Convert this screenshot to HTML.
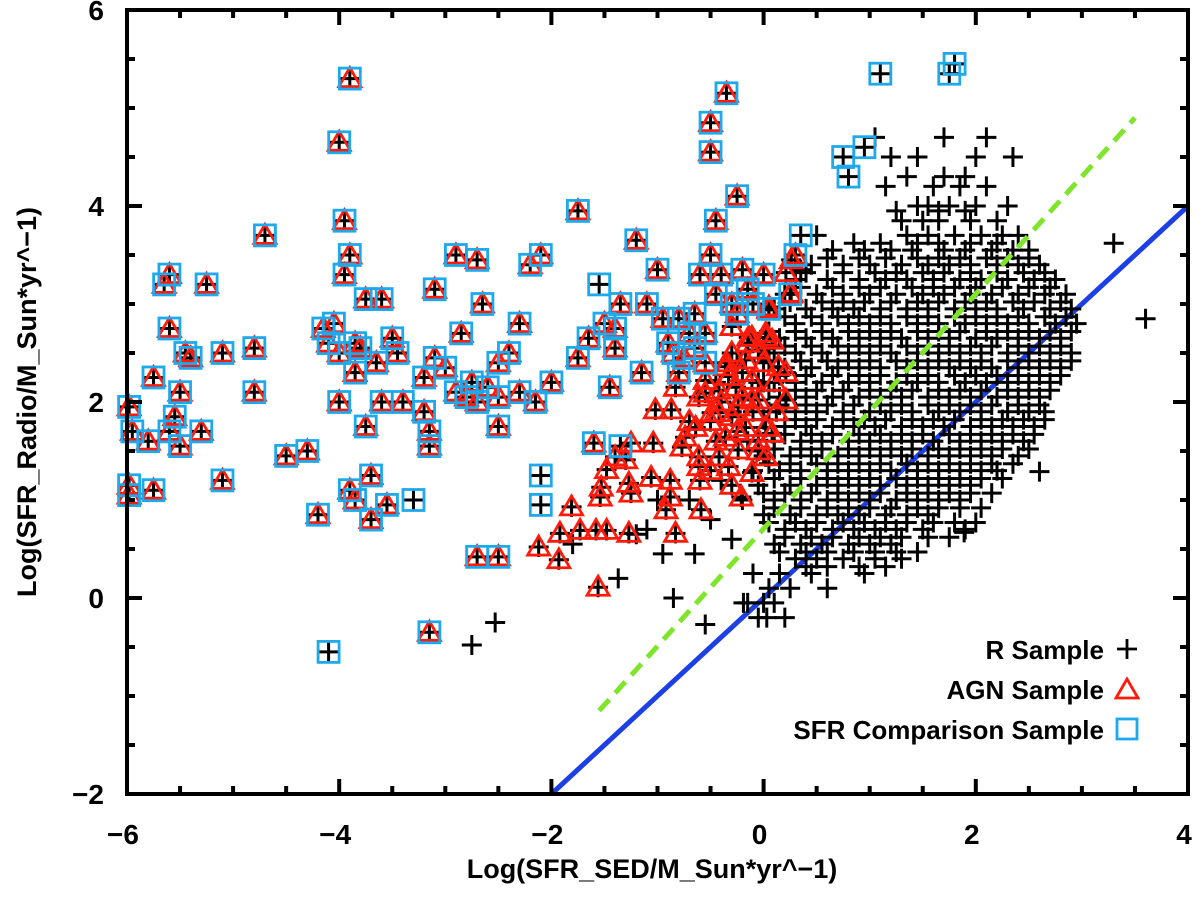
<!DOCTYPE html>
<html><head><meta charset="utf-8"><style>
html,body{margin:0;padding:0;background:#fff;}
svg{display:block;font-family:"Liberation Sans",sans-serif;}
</style></head><body>
<svg id="chart" width="1200" height="898" viewBox="0 0 1200 898">
<g id="marks"></g>
<g id="axes"></g>
</svg>
<script>
// R sample (black crosses only)
const rowsY=[4.7,4.5,4.3,4.2,4.0,3.85,3.7,3.55,3.4,3.25,3.1,2.95,2.8,2.65,2.5,2.35,2.2,2.05,1.9,1.75,1.6,1.45,1.3,1.15,1.0,0.85,0.7,0.55,0.4,0.25,0.1,-0.05,-0.2];
const rowsX=[
[1.05,1.7,2.1],[1.2,1.45,2.0,2.35],[1.35,1.7,1.9],[1.15,1.6,1.85,2.1],[1.45,1.55,1.75,2.0,2.3],
[1.3,1.5,1.65,1.95,2.2],[0.5,1.35,1.55,1.8,2.05,2.25,2.4],[0.65,0.95,1.2,1.4,1.7,1.9,2.15,2.35,2.5],
[0.45,0.75,1.0,1.3,1.55,1.75,1.95,2.2,2.4,2.6],[0.3,0.6,0.9,1.15,1.35,1.6,1.85,2.05,2.3,2.55,2.75],
[0.2,0.5,0.75,1.0,1.25,1.5,1.7,1.95,2.15,2.4,2.65,2.85],[0.1,0.4,0.65,0.85,1.1,1.35,1.55,1.8,2.0,2.2,2.45,2.7,2.9],
[0.3,0.55,0.8,1.0,1.2,1.45,1.65,1.9,2.1,2.3,2.5,2.75,2.95],[0.15,0.4,0.65,0.9,1.1,1.3,1.55,1.75,2.0,2.2,2.4,2.6,2.8],
[0.1,0.3,0.55,0.8,1.0,1.2,1.45,1.65,1.85,2.05,2.3,2.5,2.7,2.9],[0.2,0.45,0.7,0.9,1.1,1.35,1.55,1.75,1.95,2.15,2.4,2.6,2.8],
[0.0,0.3,0.55,0.8,1.0,1.25,1.45,1.65,1.9,2.1,2.3,2.5,2.7],[0.15,0.4,0.65,0.9,1.1,1.3,1.55,1.75,1.95,2.2,2.4,2.6],
[0.05,0.3,0.5,0.75,1.0,1.2,1.4,1.65,1.85,2.05,2.3,2.5,2.65],[0.2,0.4,0.65,0.85,1.05,1.3,1.5,1.7,1.95,2.15,2.35,2.55],
[0.1,0.35,0.55,0.8,1.0,1.2,1.4,1.6,1.85,2.05,2.25,2.45],[0.0,0.25,0.45,0.7,0.9,1.1,1.3,1.55,1.75,1.95,2.15,2.4],
[0.15,0.35,0.6,0.8,1.0,1.2,1.45,1.65,1.85,2.05,2.2],[-0.05,0.25,0.5,0.7,0.9,1.1,1.35,1.55,1.75,1.95],
[0.1,0.35,0.6,0.8,1.0,1.25,1.45,1.65,1.85],[0.0,0.25,0.5,0.7,0.9,1.15,1.35,1.55],
[0.2,0.4,0.65,0.85,1.05,1.25,1.5,1.9],[0.1,0.35,0.55,0.8,1.0,1.2],[0.3,0.5,0.75,1.05,1.3],
[-0.1,0.15,0.45,0.95],[0.05,0.25,0.6],[-0.15,0.0,0.1],[-0.05,0.2]];
// denser in-between rows of the core cloud
const rows2Y=[3.95,3.62,3.47,3.32,3.17,3.02,2.87,2.72,2.57,2.42,2.27,2.12,1.97,1.82,1.67,1.52,1.37,1.22,1.07,0.92,0.77,0.62,0.47,0.32];
const rows2X=[
[1.25,1.65,1.9],[0.85,1.1,1.45,1.65,1.95,2.2],[0.6,0.9,1.15,1.45,1.65,1.85,2.1,2.3,2.5],
[0.4,0.75,1.05,1.25,1.5,1.7,1.95,2.2,2.45,2.65],[0.35,0.65,0.9,1.1,1.4,1.6,1.8,2.0,2.25,2.5,2.7],
[0.25,0.55,0.75,0.95,1.2,1.45,1.65,1.9,2.1,2.35,2.55,2.8],[0.2,0.45,0.7,0.9,1.1,1.35,1.55,1.8,2.0,2.2,2.4,2.65,2.85],
[0.05,0.3,0.55,0.8,1.0,1.2,1.45,1.65,1.85,2.1,2.3,2.5,2.7,2.9],[0.2,0.45,0.7,0.9,1.1,1.35,1.55,1.75,1.95,2.15,2.4,2.6,2.8],
[0.05,0.35,0.6,0.8,1.0,1.25,1.45,1.65,1.85,2.05,2.3,2.5,2.7,2.9],[0.15,0.4,0.65,0.9,1.1,1.35,1.55,1.8,2.0,2.2,2.4,2.6,2.8],
[0.05,0.3,0.5,0.75,1.0,1.2,1.4,1.65,1.85,2.05,2.3,2.5,2.7],[0.15,0.4,0.6,0.85,1.1,1.3,1.55,1.75,1.95,2.15,2.4,2.6],
[0.0,0.3,0.5,0.75,0.95,1.15,1.4,1.6,1.8,2.05,2.25,2.45,2.65],[0.2,0.45,0.65,0.9,1.1,1.3,1.5,1.75,1.95,2.15,2.35,2.55],
[0.1,0.35,0.55,0.8,1.0,1.2,1.4,1.65,1.85,2.05,2.25,2.5],[0.05,0.25,0.5,0.7,0.9,1.1,1.35,1.55,1.75,1.95,2.15,2.35],
[0.1,0.35,0.6,0.8,1.0,1.25,1.45,1.65,1.85,2.05,2.25],[0.0,0.2,0.45,0.7,0.9,1.1,1.35,1.55,1.75,1.95,2.15],
[0.1,0.35,0.6,0.8,1.0,1.2,1.45,1.65,1.85,2.05],[0.05,0.3,0.5,0.75,0.95,1.15,1.35,1.6,1.8,2.0],
[0.2,0.45,0.65,0.9,1.1,1.3,1.55,1.75],[0.15,0.4,0.6,0.85,1.05,1.25,1.45],[0.4,0.6,0.9,1.15]];
const extraX=[3.3,3.6,2.6,1.89,-1.37,-2.75,-2.53,-0.85,-0.55,-0.19,0.03,-1.1,-0.65,-0.5,-0.3,-0.2,-0.4,-0.7,-1.0,-0.95,-1.2,-1.8,-0.1,0.35,-0.15,-0.3,-0.05,-0.25,0.05,-0.45,-0.1];
const extraY=[3.62,2.85,1.29,0.67,0.2,-0.48,-0.25,0.0,-0.27,-0.05,-0.2,0.7,0.45,0.8,0.6,1.0,1.2,1.0,1.0,0.45,0.65,0.55,2.6,3.35,1.6,1.9,2.2,2.4,2.5,2.2,1.3];
// SFR comparison sample (blue squares; all also R sample)
const sqX=[-5.98,-5.95,-5.98,-5.98,-5.8,-5.75,-5.75,-5.65,-5.6,-5.6,-5.55,-5.6,-5.5,-5.5,-5.45,-5.4,-5.3,-5.25,-5.1,-5.1,-4.8,-4.8,-4.7,-4.5,-4.3,-4.2,-4.15,-4.1,-4.05,-4.0,-4.0,-4.0,-3.95,-3.9,-3.95,-3.9,-3.85,-3.85,-3.9,-3.85,-3.8,-3.75,-3.75,-3.7,-3.7,-3.65,-3.6,-3.6,-3.55,-3.5,-3.45,-3.4,-3.2,-3.2,-3.15,-3.15,-3.15,-3.1,-3.1,-3.0,-2.9,-2.9,-2.85,-2.8,-2.75,-2.7,-2.7,-2.7,-2.65,-2.6,-2.5,-2.5,-2.5,-2.5,-2.4,-2.3,-2.3,-2.2,-2.1,-2.15,-2.0,-1.75,-1.75,-1.65,-1.6,-1.5,-1.45,-1.4,-1.4,-1.35,-1.2,-1.15,-1.1,-1.0,-0.95,-0.9,-0.85,-0.8,-0.75,-0.7,-0.65,-0.6,-0.55,-0.5,-0.5,-0.5,-0.45,-0.45,-0.4,-0.35,-0.3,-0.25,-0.25,-0.2,-0.15,-0.1,0.0,0.05,0.3,0.25,-0.55,-0.65,-0.8,
-3.3,-4.1,-2.1,-2.1,-1.55,-1.35,0.35,0.75,0.8,0.95,1.1,1.75,1.8];
const sqY=[1.95,1.7,1.15,1.05,1.6,1.1,2.25,3.2,3.3,2.75,1.85,1.7,1.55,2.1,2.5,2.45,1.7,3.2,2.5,1.2,2.55,2.1,3.7,1.45,1.5,0.85,2.75,2.6,2.8,4.65,2.5,2.0,3.85,5.3,3.3,3.5,2.6,2.3,1.1,1.0,2.55,3.05,1.75,1.25,0.8,2.4,3.05,2.0,0.95,2.65,2.5,2.0,2.25,1.9,1.7,1.55,-0.35,3.15,2.45,2.35,2.1,3.5,2.7,2.05,2.2,3.45,2.0,0.42,3.0,2.15,0.42,2.4,2.05,1.75,2.5,2.1,2.8,3.4,3.5,2.0,2.2,3.95,2.45,2.65,1.58,2.8,2.15,2.55,2.75,3.0,3.65,2.3,3.0,3.35,2.85,2.6,2.5,2.3,2.45,2.7,2.55,3.3,2.7,4.85,4.55,3.5,3.85,3.1,3.3,5.15,3.0,4.1,2.9,3.35,3.15,3.0,3.3,2.95,3.5,3.1,2.4,2.9,2.85,
1.0,-0.55,1.25,0.95,3.2,1.55,3.7,4.5,4.3,4.6,5.35,5.35,5.45];
const sqNoAgn=13; // last entries have no AGN triangle
// AGN-only sample (red triangles)
const agnX=[-2.12,-1.93,-1.92,-1.81,-1.73,-1.58,-1.48,-1.54,-1.53,-1.48,-1.4,-1.3,-1.27,-1.25,-1.27,-1.25,-1.06,-1.04,-1.02,-0.87,-0.83,-0.88,-0.88,-0.92,-0.83,-0.77,-0.74,-0.64,-0.61,-0.61,-0.59,-0.42,-0.33,-0.24,-0.21,-0.11,0.02,-0.61,-0.55,-0.42,-0.33,-0.42,-0.3,-0.24,-0.11,0.02,0.08,0.21,0.14,-0.05,-0.14,-0.3,0.02,0.08,-0.17,-0.36,-0.55,-0.05,-0.17,-0.05,-0.36,-0.49,-0.26,-0.11,0.05,0.21,-1.56,0.26,0.21,0.26,0.05,-0.11,0.02,
-0.5,-0.4,-0.2,-0.1,0.1,-0.3,-0.15,0.0,-0.45,-0.25,-0.05,0.12,-0.35,-0.2,-0.6,-0.7,-0.5,-0.3];
const agnY=[0.52,0.39,0.66,0.93,0.69,0.69,0.69,1.03,1.13,1.31,1.44,1.41,1.17,1.07,0.66,1.58,1.23,1.58,1.92,1.92,2.15,1.2,1.03,0.9,0.66,1.54,1.64,1.74,1.44,1.34,0.9,1.44,1.34,1.51,1.03,1.28,1.44,2.05,2.22,2.12,2.26,1.89,1.85,1.95,2.02,1.74,1.68,2.02,2.36,2.53,2.66,2.77,2.7,2.63,2.43,2.36,2.09,2.02,1.74,1.61,1.64,1.89,2.15,2.22,2.94,2.3,0.11,3.45,3.32,3.11,2.97,2.66,2.66,
1.8,2.0,2.3,1.9,2.2,2.5,2.6,2.4,1.6,1.7,1.5,1.9,2.4,2.05,1.2,1.8,1.3,1.15];
// reference lines
const oneToOneX=[-2,4], oneToOneY=[-2,4];
const fitX=[-1.55,3.5], fitY=[-1.15,4.9];
const xTicks=[-6,-4,-2,0,2,4], yTicks=[-2,0,2,4,6];

const X0=127,X1=1188,Y0=794,Y1=10;
const sx=v=>X0+(v+6)/10*(X1-X0);
const sy=v=>Y0-(v+2)/8*(Y0-Y1);
const NS="http://www.w3.org/2000/svg";
const marks=document.getElementById('marks'), axes=document.getElementById('axes');
function mk(tag,attrs,parent){const e=document.createElementNS(NS,tag);for(const k in attrs)e.setAttribute(k,attrs[k]);parent.appendChild(e);return e;}

let l=mk('line',{x1:sx(oneToOneX[0]),y1:sy(oneToOneY[0]),x2:sx(oneToOneX[1]),y2:sy(oneToOneY[1]),stroke:'#1c3fe6','stroke-width':5},marks);


const gC=mk('g',{stroke:'#000','stroke-width':3,fill:'none'},marks);


function cross(x,y){const px=sx(x),py=sy(y);const p=mk('path',{d:`M${px-10},${py}h20M${px},${py-10}v20`},gC);

}
rowsY.forEach((y,i)=>rowsX[i].forEach(x=>cross(x,y)));
rows2Y.forEach((y,i)=>rows2X[i].forEach(x=>cross(x,y)));
extraX.forEach((x,i)=>cross(x,extraY[i]));
sqX.forEach((x,i)=>cross(x,sqY[i]));
agnX.forEach((x,i)=>cross(x,agnY[i]));
const gT=mk('g',{stroke:'#ff1a0a','stroke-width':2.8,fill:'none','stroke-linejoin':'miter'},marks);


function tri(x,y){const px=sx(x),py=sy(y);const p=mk('path',{d:`M${px-11},${py+8}L${px},${py-11}L${px+11},${py+8}Z`},gT);

}
agnX.forEach((x,i)=>tri(x,agnY[i]));
sqX.forEach((x,i)=>{if(i<sqX.length-sqNoAgn)tri(x,sqY[i]);});
const gS=mk('g',{stroke:'#1ea9ec','stroke-width':2.8,fill:'none'},marks);


sqX.forEach((x,i)=>{const p=mk('rect',{x:sx(x)-10.5,y:sy(sqY[i])-10.5,width:21,height:21},gS);

});
l=mk('line',{x1:sx(fitX[0]),y1:sy(fitY[0]),x2:sx(fitX[1]),y2:sy(fitY[1]),stroke:'#7fe52a','stroke-width':5,'stroke-dasharray':'15 9'},marks);



const fr=mk('rect',{x:X0,y:Y1,width:X1-X0,height:Y0-Y1,fill:'none',stroke:'#000','stroke-width':4},axes);


let d='';
for(let v=-6;v<=4.001;v+=0.5){const px=sx(v);const L=Math.abs(v-Math.round(v/2)*2)<1e-6?15:8;d+=`M${px},${Y0}v${-L}M${px},${Y1}v${L}`;}
for(let v=-2;v<=6.001;v+=0.5){const py=sy(v);const L=Math.abs(v-Math.round(v/2)*2)<1e-6?15:8;d+=`M${X0},${py}h${L}M${X1},${py}h${-L}`;}
const tk=mk('path',{d:d,stroke:'#000','stroke-width':4,fill:'none'},axes);


xTicks.forEach(v=>{const t=mk('text',{x:sx(v)-4,y:844,'text-anchor':'middle','font-size':28,'font-weight':'bold'},axes);t.textContent=v<0?'\u2212'+(-v):String(v);

});
yTicks.forEach(v=>{const t=mk('text',{x:104,y:sy(v)+10,'text-anchor':'end','font-size':28,'font-weight':'bold'},axes);t.textContent=v<0?'\u2212'+(-v):String(v);

});
let t=mk('text',{x:652,y:878,'text-anchor':'middle','font-size':27,'font-weight':'bold'},axes);
t.textContent='Log(SFR_SED/M_Sun*yr^\u22121)';


t=mk('text',{x:0,y:0,'text-anchor':'middle','font-size':27,'font-weight':'bold',transform:'translate(36,402) rotate(-90)'},axes);
t.textContent='Log(SFR_Radio/M_Sun*yr^\u22121)';



const lg=mk('g',{},axes);


const legLabels=['R Sample','AGN Sample','SFR Comparison Sample'];
legLabels.forEach((s,i)=>{const y=659+i*40;const e=mk('text',{x:1104,y:y,'text-anchor':'end','font-size':26,'font-weight':'bold'},lg);e.textContent=s;


const cx=1127,cy=y-10;let m;
if(i===0)m=mk('path',{d:`M${cx-10},${cy}h20M${cx},${cy-10}v20`,stroke:'#000','stroke-width':2.8,fill:'none'},lg);
else if(i===1)m=mk('path',{d:`M${cx-11},${cy+9}L${cx},${cy-10}L${cx+11},${cy+9}Z`,stroke:'#ff1a0a','stroke-width':2.8,fill:'none'},lg);
else m=mk('rect',{x:cx-10,y:cy-10,width:20,height:20,stroke:'#1ea9ec','stroke-width':2.8,fill:'none'},lg);

});
</script>
</body></html>
